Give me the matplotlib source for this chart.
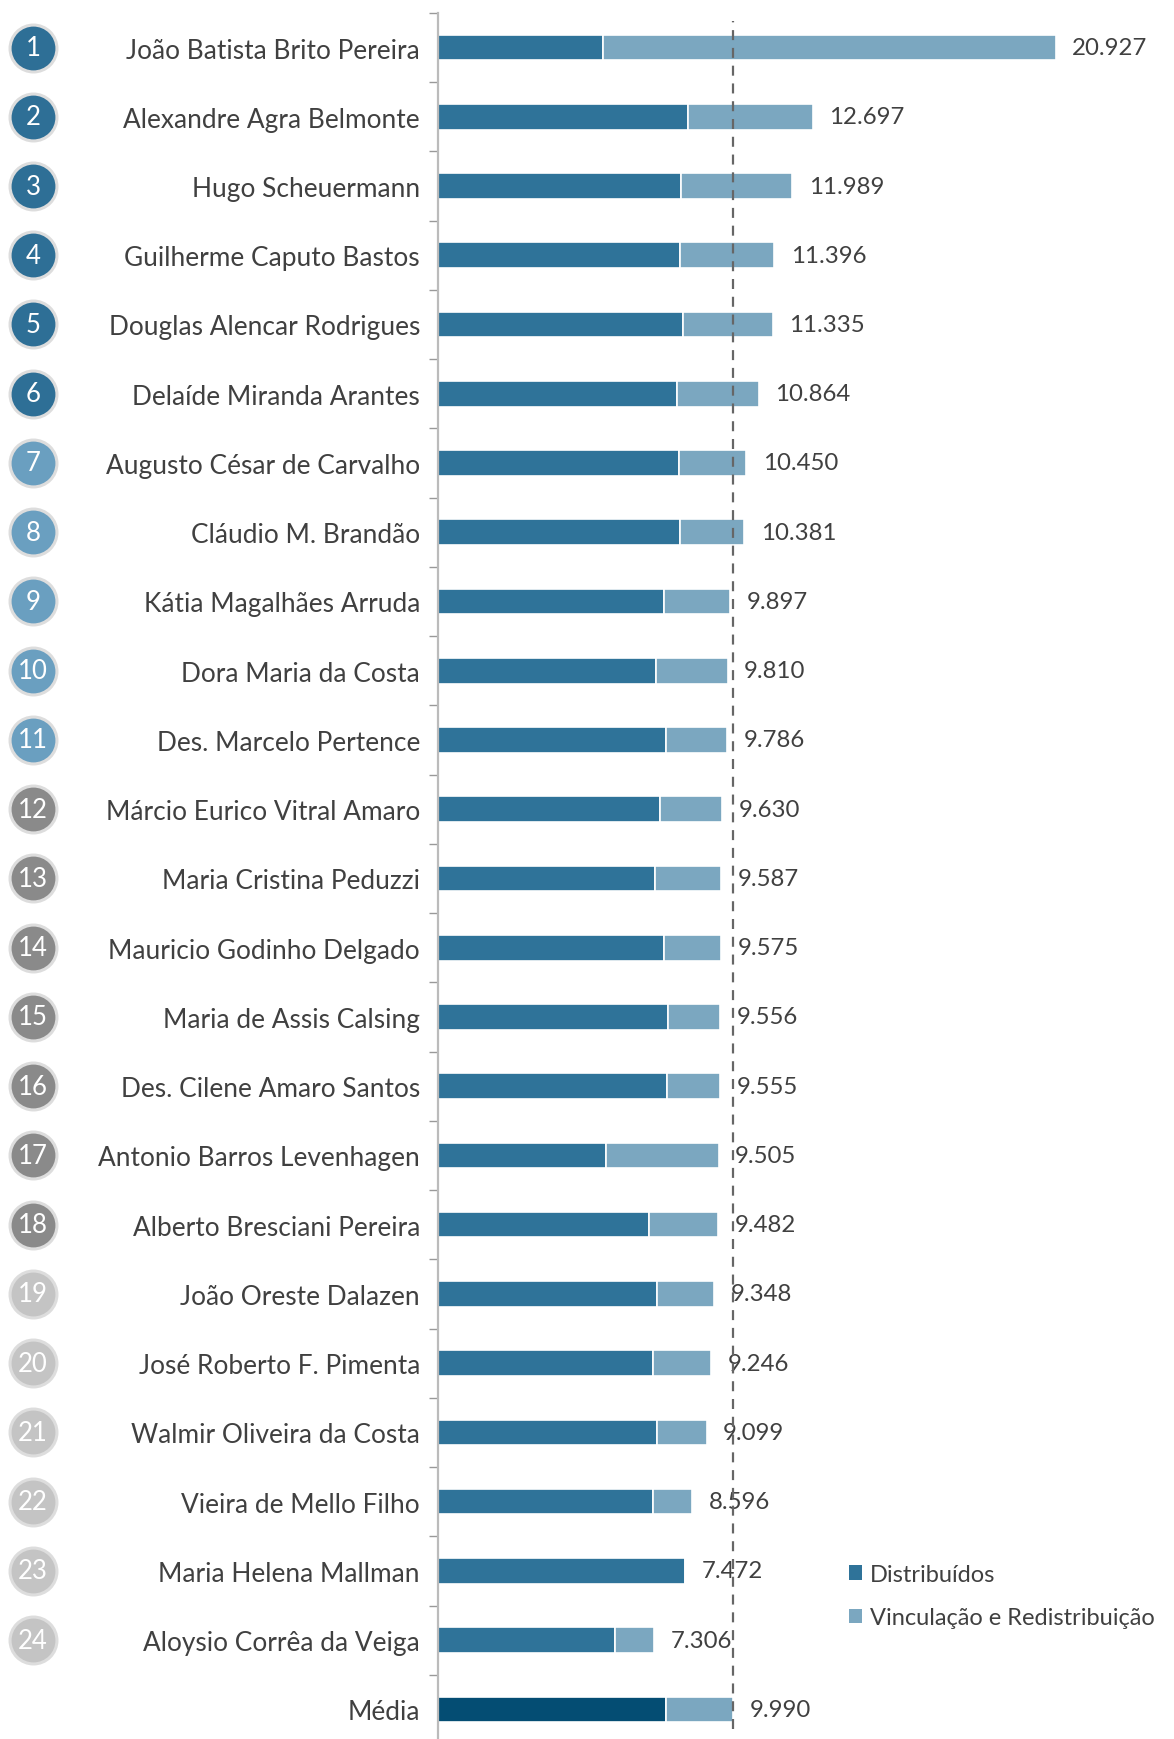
import matplotlib
matplotlib.use("Agg")
import matplotlib.pyplot as plt
from matplotlib.transforms import blended_transform_factory
from matplotlib.patches import Patch

plt.rcParams['font.family'] = ['Lato', 'DejaVu Sans']

names = ["João Batista Brito Pereira", "Alexandre Agra Belmonte", "Hugo Scheuermann",
         "Guilherme Caputo Bastos", "Douglas Alencar Rodrigues", "Delaíde Miranda Arantes",
         "Augusto César de Carvalho", "Cláudio M. Brandão", "Kátia Magalhães Arruda",
         "Dora Maria da Costa", "Des. Marcelo Pertence", "Márcio Eurico Vitral Amaro",
         "Maria Cristina Peduzzi", "Mauricio Godinho Delgado", "Maria de Assis Calsing",
         "Des. Cilene Amaro Santos", "Antonio Barros Levenhagen", "Alberto Bresciani Pereira",
         "João Oreste Dalazen", "José Roberto F. Pimenta", "Walmir Oliveira da Costa",
         "Vieira de Mello Filho", "Maria Helena Mallman", "Aloysio Corrêa da Veiga", "Média"]
ranks = [str(i) for i in range(1, 25)] + [""]

distribuidos = [5580, 8481, 8233, 8199, 8290, 8097, 8176, 8199, 7646, 7386, 7725, 7510,
                7341, 7657, 7803, 7770, 5692, 7160, 7420, 7284, 7420, 7284, 8368, 6008, 7725]
vinculacao = [15347, 4216, 3756, 3197, 3045, 2767, 2274, 2182, 2251, 2424, 2061, 2120,
              2246, 1918, 1753, 1785, 3813, 2322, 1928, 1962, 1679, 1312, 0, 1298, 2265]
total_labels = ["20.927", "12.697", "11.989", "11.396", "11.335", "10.864", "10.450",
                "10.381", "9.897", "9.810", "9.786", "9.630", "9.587", "9.575", "9.556",
                "9.555", "9.505", "9.482", "9.348", "9.246", "9.099", "8.596", "7.472",
                "7.306", "9.990"]
media = 9990

DARK = "#2F7399"
LIGHT = "#7BA7C0"
MEDIA_DARK = "#044D73"
TXT = "#404040"
rank_colors = ["#2E6F96"] * 6 + ["#6A9FC0"] * 5 + ["#8A8A8A"] * 7 + ["#C4C4C4"] * 6

W, H = 1174, 1740
fig = plt.figure(figsize=(W / 100, H / 100), dpi=100)
top_px, bot_px = 13.9, 1745.0
left_px = 438
ax = fig.add_axes([left_px / W, 1 - bot_px / H, (W - left_px) / W, (bot_px - top_px) / H])

n = len(names)
ys = list(range(n))
dcols = [DARK] * (n - 1) + [MEDIA_DARK]
ax.barh(ys, distribuidos, height=0.37, color=dcols, edgecolor="white", linewidth=1.2)
ax.barh(ys, vinculacao, left=distribuidos, height=0.37, color=LIGHT, edgecolor="white", linewidth=1.2)

ax.set_xlim(0, (W - left_px) * 33.88)
ax.set_ylim(n - 0.5, -0.5)

# value labels
for y, d, v, lab in zip(ys, distribuidos, vinculacao, total_labels):
    ax.annotate(lab, xy=(d + v, y), xytext=(12, 0), textcoords="offset points",
                ha="left", va="center", fontsize=17.3, color=TXT)

# mean line
ymin = (bot_px - 1730) / (bot_px - top_px)
ymax = (bot_px - 22) / (bot_px - top_px)
ax.axvline(media, ymin=ymin, ymax=ymax, color="#666666", linewidth=1.6, dashes=(4.5, 3.5), zorder=5)

# axes styling
for s in ["top", "right", "bottom"]:
    ax.spines[s].set_visible(False)
ax.spines["left"].set_color("#BBBBBB")
ax.spines["left"].set_linewidth(1.6)
ax.set_xticks([])
ax.set_yticks(ys)
ax.set_yticklabels(names, fontsize=18.9, color=TXT)
ax.tick_params(axis="y", which="major", length=0, pad=13)
ax.set_yticks([i - 0.5 for i in range(n + 1)], minor=True)
ax.tick_params(axis="y", which="minor", length=6.5, width=1.0, color="#999999")

# rank circles
tr = blended_transform_factory(fig.transFigure, ax.transData)
cx = 33 / W
for y, r, c in zip(ys[:-1], ranks[:-1], rank_colors):
    ax.scatter([cx], [y], s=1140, color=c, edgecolors="#DDDDDD", linewidths=2.2,
               transform=tr, clip_on=False, zorder=6)
    ax.text(cx, y, r, transform=tr, ha="center", va="center", fontsize=18.5,
            color="white", zorder=7, clip_on=False)

# legend
handles = [Patch(facecolor=DARK, edgecolor="none"), Patch(facecolor=LIGHT, edgecolor="none")]
fig.legend(handles, ["Distribuídos", "Vinculação e Redistribuição"], loc="center left",
           bbox_to_anchor=(849 / W, 1 - 1597 / H), frameon=False, fontsize=17.0,
           handlelength=0.55, handleheight=0.55, handletextpad=0.35, labelspacing=0.95,
           labelcolor=TXT, borderaxespad=0, borderpad=0)

fig.savefig("out.png", dpi=100)
